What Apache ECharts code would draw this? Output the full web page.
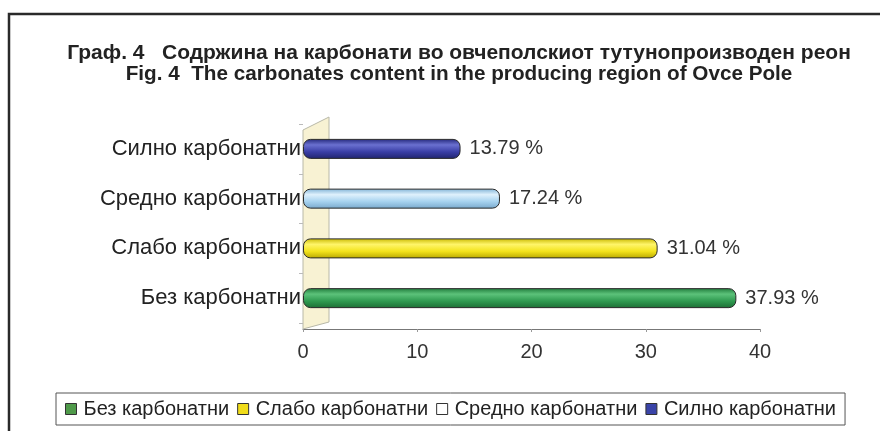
<!DOCTYPE html>
<html>
<head>
<meta charset="utf-8">
<style>html,body{margin:0;padding:0;background:#fff;}#c{width:880px;height:431px;}</style>
<script src="https://cdn.jsdelivr.net/npm/echarts@6/dist/echarts.min.js"></script>
</head>
<body>
<div id="c"></div>
<script>
var titleLine1 = 'Граф. 4   Содржина на карбонати во овчеполскиот тутунопроизводен реон';
var titleLine2 = 'Fig. 4  The carbonates content in the producing region of Ovce Pole';
var categories = ['Без карбонатни', 'Слабо карбонатни', 'Средно карбонатни', 'Силно карбонатни'];
var values = [37.93, 31.04, 17.24, 13.79];
var xTicks = [0, 10, 20, 30, 40];

var legendColors = ['#4f9a4a', '#f0dc1a', '#ffffff', '#3a44a8'];
var grads = [
  ['#1f7a3a', '#5cc27a', '#2f9a50', '#1c6e34'],
  ['#c9b800', '#fff56a', '#f3e31c', '#b8a800'],
  ['#7fb2d6', '#dff1fc', '#a6d2ef', '#78a8cc'],
  ['#23277a', '#6a70d0', '#3a3ea6', '#20246e']
];
var FONT = 'Liberation Sans, Arial, sans-serif';

function grad(g) {
  return new echarts.graphic.LinearGradient(0, 0, 0, 1, [
    {offset: 0, color: g[0]}, {offset: 0.3, color: g[1]},
    {offset: 0.65, color: g[2]}, {offset: 1, color: g[3]}
  ]);
}

var series = categories.map(function (name, i) {
  var d = categories.map(function (c, j) { return j === i ? values[i] : '-'; });
  return {
    name: name, type: 'bar', stack: 'all', barWidth: 20, data: d,
    itemStyle: {color: grad(grads[i]), borderColor: '#2a2a2a', borderWidth: 1, borderRadius: 7},
    label: {show: true, position: 'right', distance: 9, formatter: '{c} %',
      fontFamily: FONT, fontSize: 20, color: '#333'}
  };
});

var chart = echarts.init(document.getElementById('c'), null, {renderer: 'canvas'});
chart.setOption({
  backgroundColor: '#ffffff',
  animation: false,
  title: [
    {text: titleLine1, left: 454, top: 38, textAlign: 'center',
      textStyle: {fontFamily: FONT, fontWeight: 'bold', fontSize: 21, color: '#222'}},
    {text: titleLine2, left: 454, top: 59, textAlign: 'center',
      textStyle: {fontFamily: FONT, fontWeight: 'bold', fontSize: 20.7, color: '#222'}}
  ],
  grid: {left: 303, right: 120, top: 124, height: 199, containLabel: false},
  xAxis: {
    type: 'value', min: 0, max: 40, interval: 10, offset: 6,
    axisLine: {show: true, lineStyle: {color: '#777', width: 1}},
    axisTick: {show: true, length: 3, lineStyle: {color: '#999'}},
    splitLine: {show: false},
    axisLabel: {fontFamily: FONT, fontSize: 20, color: '#333', margin: 13,
      formatter: function (v) { return xTicks.indexOf(v) >= 0 ? String(v) : ''; }}
  },
  yAxis: {
    type: 'category', data: categories,
    axisLine: {show: false},
    axisTick: {show: true, length: 4, lineStyle: {color: '#bbb'}},
    axisLabel: {fontFamily: FONT, fontSize: 22, color: '#222', margin: 2}
  },
  legend: {
    left: 56, top: 393, orient: 'horizontal',
    itemWidth: 11, itemHeight: 11, itemGap: 8,
    borderColor: '#555', borderWidth: 1, padding: [6, 9],
    textStyle: {fontFamily: FONT, fontSize: 20, color: '#222', padding: [0, 0, 0, 2]},
    data: categories.map(function (c, i) {
      return {name: c, icon: 'rect', itemStyle: {color: legendColors[i], borderColor: '#333', borderWidth: 1}};
    })
  },
  graphic: [
    {type: 'polyline', silent: true, z: 100,
      shape: {points: [[9, 431], [9, 14], [880, 14]]},
      style: {stroke: '#2a2a2a', lineWidth: 2.5, fill: null}},
    {type: 'polygon', silent: true, z: -1,
      shape: {points: [[303, 130], [329, 117], [329, 322], [303, 329]]},
      style: {fill: 'rgba(246,238,196,0.75)', stroke: '#b8b8a8', lineWidth: 1}}
  ],
  series: series
});
</script>
</body>
</html>
